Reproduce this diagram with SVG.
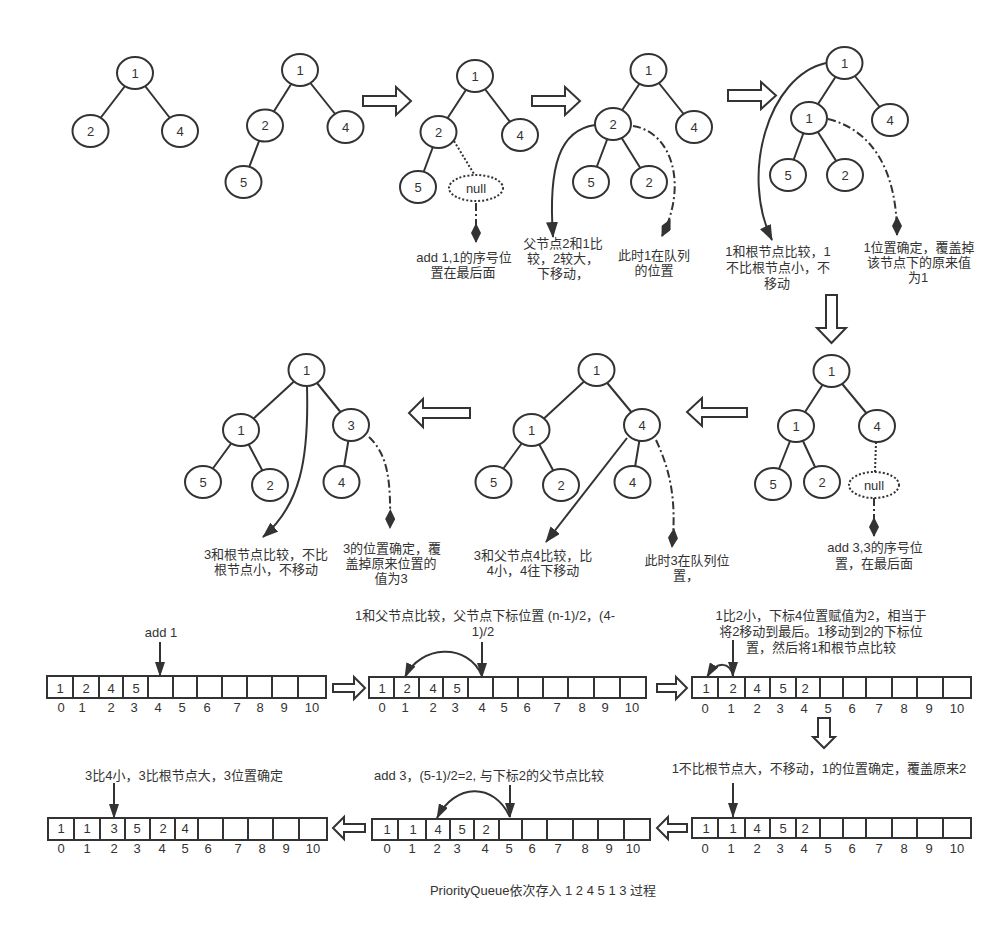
<svg xmlns="http://www.w3.org/2000/svg" width="1007" height="934" viewBox="0 0 1007 934">
<style>
text{font-family:"Liberation Sans","Noto Sans CJK SC",sans-serif;font-size:13px;fill:#333;text-anchor:middle;dominant-baseline:central}
.n ellipse{fill:#fff;stroke:#333;stroke-width:2}
.e{stroke:#333;stroke-width:2;fill:none}
.dd{stroke:#333;stroke-width:2;fill:none;stroke-dasharray:8,3,2,3}
.dt{stroke:#333;stroke-width:2;fill:none;stroke-dasharray:2,2}
.null{fill:#fff;stroke:#333;stroke-width:2;stroke-dasharray:2,2}
.big{fill:#fff;stroke:#333;stroke-width:2}
.cell{fill:#fff;stroke:#333;stroke-width:2}
.div{stroke:#333;stroke-width:2}
</style>
<defs>
<marker id="ah" markerUnits="userSpaceOnUse" markerWidth="16" markerHeight="12" viewBox="0 0 16 12" refX="15" refY="6" orient="auto"><path d="M0,0 L16,6 L0,12 z" fill="#333"/></marker>
<marker id="ahs" markerUnits="userSpaceOnUse" markerWidth="15" markerHeight="10" viewBox="0 0 15 10" refX="14" refY="5" orient="auto"><path d="M0,0 L15,5 L0,10 z" fill="#333"/></marker>
<marker id="dm" markerUnits="userSpaceOnUse" markerWidth="20" markerHeight="10" viewBox="0 0 20 10" refX="19" refY="5" orient="auto"><path d="M0,5 L10,0 L20,5 L10,10 z" fill="#333"/></marker>
</defs>
<rect width="1007" height="934" fill="#fff"/>

<g id="connectors">
<path class="e" d="M135,73L90.5,131M135,73L180,131"/>
<path class="e" d="M300,70L265,125.5M300,70L345.5,127M265,125.5L243.5,182"/>
<path class="e" d="M475,76L438.5,132M475,76L520,135M438.5,132L418,187"/>
<path class="dt" d="M454,141L474,174"/>
<path class="dd" d="M476,203L476,242" marker-end="url(#dm)"/>
<path class="e" d="M648.5,70L613,124M648.5,70L694,127M613,124L591,182M613,124L649,182"/>
<path class="e" d="M595,125C560,130 548,165 553,237" marker-end="url(#ah)"/>
<path class="dd" d="M633,126C672,132 688,185 662,236" marker-end="url(#dm)"/>
<path class="e" d="M844.5,63L809,118M844.5,63L890,120M809,118L788,175M809,118L845,175"/>
<path class="e" d="M826,63C768,76 740,175 772,240" marker-end="url(#ah)"/>
<path class="dd" d="M828,119C872,130 897,170 897,235" marker-end="url(#dm)"/>
<path class="e" d="M831.5,371L796,426M831.5,371L877,426M796,426L773,484M796,426L822,482"/>
<path class="dt" d="M876,442L875,472"/>
<path class="dd" d="M874,498L874,536" marker-end="url(#dm)"/>
<path class="e" d="M596.5,370L531.5,430M596.5,370L642,425M531.5,430L493.5,482M531.5,430L561,485M642,425L632.5,482"/>
<path class="e" d="M627,438L546,542" marker-end="url(#ah)"/>
<path class="dd" d="M656,440C670,470 677,500 672,547" marker-end="url(#dm)"/>
<path class="e" d="M306.5,370L241,430M306.5,370L351,425M241,430L203,482M241,430L270,485M351,425L341.5,482"/>
<path class="e" d="M307,387C309,460 300,505 263,537" marker-end="url(#ah)"/>
<path class="dd" d="M369,437C388,455 391,480 390,528" marker-end="url(#dm)"/>
<path class="e" d="M160,642L160,676" marker-end="url(#ahs)"/>
<path class="e" d="M482,642L482,677" marker-end="url(#ahs)"/>
<path class="e" d="M482,676C468,642 420,645 405,677" marker-end="url(#ahs)"/>
<path class="e" d="M733,640L733,676" marker-end="url(#ahs)"/>
<path class="e" d="M733,676C730,662 717,660 707,677" marker-end="url(#ahs)"/>
<path class="e" d="M733,783L733,817" marker-end="url(#ahs)"/>
<path class="e" d="M510,785L510,817" marker-end="url(#ahs)"/>
<path class="e" d="M510,817C494,782 455,783 437,818" marker-end="url(#ahs)"/>
<path class="e" d="M114,783L114,818" marker-end="url(#ahs)"/>
<polygon class="big" points="363,96 396,96 396,87 411,101 396,115 396,106 363,106"/>
<polygon class="big" points="532,96 565,96 565,87 580,101 565,115 565,106 532,106"/>
<polygon class="big" points="728,90 761,90 761,82 776,95.5 761,109 761,101 728,101"/>
<polygon class="big" points="826,295 837,295 837,328 846,328 831.5,343 817,328 826,328"/>
<polygon class="big" points="747,408 702,408 702,398 687,412 702,426 702,417 747,417"/>
<polygon class="big" points="470,408 423,408 423,399 409,413 423,427 423,418 470,418"/>
<polygon class="big" points="333,684 354,684 354,677 365,688 354,699 354,692 333,692"/>
<polygon class="big" points="657,684 676,684 676,677 687,688 676,699 676,692 657,692"/>
<polygon class="big" points="818,718 830,718 830,737 835,737 824,748 813,737 818,737"/>
<polygon class="big" points="687,824 668,824 668,817 657,828 668,839 668,832 687,832"/>
<polygon class="big" points="365,824 344,824 344,817 333,828 344,839 344,832 365,832"/>
</g>

<g id="t1" class="n">
<ellipse cx="135" cy="73" rx="18" ry="16"/><text x="135" y="73">1</text>
<ellipse cx="90.5" cy="131" rx="18" ry="16"/><text x="90.5" y="131">2</text>
<ellipse cx="180" cy="131" rx="18" ry="16"/><text x="180" y="131">4</text>
</g>
<g id="t2" class="n">
<ellipse cx="300" cy="70" rx="18" ry="16"/><text x="300" y="70">1</text>
<ellipse cx="265" cy="125.5" rx="18" ry="16"/><text x="265" y="125.5">2</text>
<ellipse cx="345.5" cy="127" rx="18" ry="16"/><text x="345.5" y="127">4</text>
<ellipse cx="243.5" cy="182" rx="18" ry="16"/><text x="243.5" y="182">5</text>
</g>
<g id="t3" class="n">
<ellipse cx="475" cy="76" rx="18" ry="16"/><text x="475" y="76">1</text>
<ellipse cx="438.5" cy="132" rx="18" ry="16"/><text x="438.5" y="132">2</text>
<ellipse cx="520" cy="135" rx="18" ry="16"/><text x="520" y="135">4</text>
<ellipse cx="418" cy="187" rx="18" ry="16"/><text x="418" y="187">5</text>
<ellipse class="null" cx="476" cy="188" rx="27" ry="13"/><text x="476" y="188">null</text>
<text x="464" y="257">add 1,1的序号位</text>
<text x="463" y="272">置在最后面</text>
</g>
<g id="t4" class="n">
<ellipse cx="648.5" cy="70" rx="18" ry="16"/><text x="648.5" y="70">1</text>
<ellipse cx="613" cy="124" rx="18" ry="16"/><text x="613" y="124">2</text>
<ellipse cx="694" cy="127" rx="18" ry="16"/><text x="694" y="127">4</text>
<ellipse cx="591" cy="182" rx="18" ry="16"/><text x="591" y="182">5</text>
<ellipse cx="649" cy="182" rx="18" ry="16"/><text x="649" y="182">2</text>
<text x="563" y="243">父节点2和1比</text>
<text x="563" y="258">较，2较大，</text>
<text x="563" y="273">下移动，</text>
<text x="654" y="255">此时1在队列</text>
<text x="654" y="270">的位置</text>
</g>
<g id="t5" class="n">
<ellipse cx="844.5" cy="63" rx="18" ry="16"/><text x="844.5" y="63">1</text>
<ellipse cx="809" cy="118" rx="18" ry="16"/><text x="809" y="118">1</text>
<ellipse cx="890" cy="120" rx="18" ry="16"/><text x="890" y="120">4</text>
<ellipse cx="788" cy="175" rx="18" ry="16"/><text x="788" y="175">5</text>
<ellipse cx="845" cy="175" rx="18" ry="16"/><text x="845" y="175">2</text>
<text x="778" y="251">1和根节点比较，1</text>
<text x="778" y="267">不比根节点小，不</text>
<text x="777" y="283">移动</text>
<text x="919" y="247">1位置确定，覆盖掉</text>
<text x="919" y="262">该节点下的原来值</text>
<text x="918" y="277">为1</text>
</g>
<g id="t6" class="n">
<ellipse cx="831.5" cy="371" rx="18" ry="16"/><text x="831.5" y="371">1</text>
<ellipse cx="796" cy="426" rx="18" ry="16"/><text x="796" y="426">1</text>
<ellipse cx="877" cy="426" rx="18" ry="16"/><text x="877" y="426">4</text>
<ellipse cx="773" cy="484" rx="18" ry="16"/><text x="773" y="484">5</text>
<ellipse cx="822" cy="482" rx="18" ry="16"/><text x="822" y="482">2</text>
<ellipse class="null" cx="874" cy="485" rx="25" ry="13"/><text x="874" y="485">null</text>
<text x="875" y="547">add 3,3的序号位</text>
<text x="874" y="563">置，在最后面</text>
</g>
<g id="t7" class="n">
<ellipse cx="596.5" cy="370" rx="18" ry="16"/><text x="596.5" y="370">1</text>
<ellipse cx="531.5" cy="430" rx="18" ry="16"/><text x="531.5" y="430">1</text>
<ellipse cx="642" cy="425" rx="18" ry="16"/><text x="642" y="425">4</text>
<ellipse cx="493.5" cy="482" rx="18" ry="16"/><text x="493.5" y="482">5</text>
<ellipse cx="561" cy="485" rx="18" ry="16"/><text x="561" y="485">2</text>
<ellipse cx="632.5" cy="482" rx="18" ry="16"/><text x="632.5" y="482">4</text>
<text x="533" y="555">3和父节点4比较，比</text>
<text x="533" y="570">4小，4往下移动</text>
<text x="687" y="560">此时3在队列位</text>
<text x="686" y="575">置，</text>
</g>
<g id="t8" class="n">
<ellipse cx="306.5" cy="370" rx="18" ry="16"/><text x="306.5" y="370">1</text>
<ellipse cx="241" cy="430" rx="18" ry="16"/><text x="241" y="430">1</text>
<ellipse cx="351" cy="425" rx="18" ry="16"/><text x="351" y="425">3</text>
<ellipse cx="203" cy="482" rx="18" ry="16"/><text x="203" y="482">5</text>
<ellipse cx="270" cy="485" rx="18" ry="16"/><text x="270" y="485">2</text>
<ellipse cx="341.5" cy="482" rx="18" ry="16"/><text x="341.5" y="482">4</text>
<text x="266" y="554">3和根节点比较，不比</text>
<text x="266" y="569">根节点小，不移动</text>
<text x="392" y="548">3的位置确定，覆</text>
<text x="391" y="563">盖掉原来位置的</text>
<text x="391" y="578">值为3</text>
</g>

<g id="arrA">
<rect class="cell" x="47" y="676" width="279" height="22"/>
<path class="div" d="M73,676v22M99,676v22M123,676v22M148,676v22M173,676v22M197,676v22M222,676v22M247,676v22M272,676v22M298,676v22"/>
<text x="60" y="688">1</text><text x="86" y="688">2</text><text x="111" y="688">4</text><text x="136" y="688">5</text>
<text x="61" y="707">0</text><text x="82" y="707">1</text><text x="111" y="707">2</text><text x="134" y="707">3</text><text x="158" y="707">4</text><text x="182" y="707">5</text><text x="207" y="707">6</text><text x="237" y="707">7</text><text x="260" y="707">8</text><text x="284" y="707">9</text><text x="312" y="707">10</text>
<text x="161" y="632">add 1</text>
</g>
<g id="arrB">
<rect class="cell" x="369" y="677" width="277" height="21"/>
<path class="div" d="M394,677v21M419,677v21M443,677v21M468,677v21M493,677v21M518,677v21M543,677v21M568,677v21M594,677v21M620,677v21"/>
<text x="382" y="688">1</text><text x="407" y="688">2</text><text x="433" y="688">4</text><text x="457" y="688">5</text>
<text x="382" y="707">0</text><text x="405" y="707">1</text><text x="433" y="707">2</text><text x="455" y="707">3</text><text x="482" y="707">4</text><text x="504" y="707">5</text><text x="527" y="707">6</text><text x="557" y="707">7</text><text x="582" y="707">8</text><text x="605" y="707">9</text><text x="632" y="707">10</text>
<text x="485" y="615">1和父节点比较，父节点下标位置 (n-1)/2，(4-</text>
<text x="483" y="631">1)/2</text>
</g>
<g id="arrC">
<rect class="cell" x="692" y="677" width="279" height="21"/>
<path class="div" d="M718,677v21M745,677v21M770,677v21M796,677v21M820,677v21M843,677v21M866,677v21M892,677v21M917,677v21M943,677v21"/>
<text x="706" y="688">1</text><text x="733" y="688">2</text><text x="757" y="688">4</text><text x="783" y="688">5</text><text x="805" y="688">2</text>
<text x="705" y="708">0</text><text x="731" y="708">1</text><text x="757" y="708">2</text><text x="780" y="708">3</text><text x="804" y="708">4</text><text x="828" y="708">5</text><text x="852" y="708">6</text><text x="879" y="708">7</text><text x="904" y="708">8</text><text x="929" y="708">9</text><text x="957" y="708">10</text>
<text x="821" y="615">1比2小，下标4位置赋值为2，相当于</text>
<text x="821" y="631">将2移动到最后。1移动到2的下标位</text>
<text x="821" y="647">置，然后将1和根节点比较</text>
</g>
<g id="arrF">
<rect class="cell" x="692" y="818" width="279" height="20"/>
<path class="div" d="M718,818v20M745,818v20M770,818v20M796,818v20M820,818v20M843,818v20M866,818v20M892,818v20M917,818v20M943,818v20"/>
<text x="706" y="828">1</text><text x="733" y="828">1</text><text x="757" y="828">4</text><text x="783" y="828">5</text><text x="805" y="828">2</text>
<text x="705" y="848">0</text><text x="731" y="848">1</text><text x="757" y="848">2</text><text x="780" y="848">3</text><text x="804" y="848">4</text><text x="828" y="848">5</text><text x="852" y="848">6</text><text x="879" y="848">7</text><text x="904" y="848">8</text><text x="929" y="848">9</text><text x="957" y="848">10</text>
<text x="819" y="768">1不比根节点大，不移动，1的位置确定，覆盖原来2</text>
</g>
<g id="arrE">
<rect class="cell" x="372" y="819" width="278" height="21"/>
<path class="div" d="M398,819v21M426,819v21M450,819v21M474,819v21M499,819v21M522,819v21M547,819v21M573,819v21M598,819v21M624,819v21"/>
<text x="387" y="829">1</text><text x="413" y="829">1</text><text x="438" y="829">4</text><text x="462" y="829">5</text><text x="486" y="829">2</text>
<text x="387" y="848">0</text><text x="412" y="848">1</text><text x="437" y="848">2</text><text x="457" y="848">3</text><text x="485" y="848">4</text><text x="509" y="848">5</text><text x="532" y="848">6</text><text x="558" y="848">7</text><text x="585" y="848">8</text><text x="609" y="848">9</text><text x="633" y="848">10</text>
<text x="489" y="775">add 3，(5-1)/2=2, 与下标2的父节点比较</text>
</g>
<g id="arrD">
<rect class="cell" x="48" y="818" width="279" height="22"/>
<path class="div" d="M74,818v22M100,818v22M125,818v22M150,818v22M175,818v22M198,818v22M223,818v22M248,818v22M273,818v22M299,818v22"/>
<text x="61" y="828">1</text><text x="87" y="828">1</text><text x="114" y="828">3</text><text x="137" y="828">5</text><text x="163" y="828">2</text><text x="185" y="828">4</text>
<text x="61" y="848">0</text><text x="87" y="848">1</text><text x="114" y="848">2</text><text x="137" y="848">3</text><text x="162" y="848">4</text><text x="185" y="848">5</text><text x="208" y="848">6</text><text x="238" y="848">7</text><text x="262" y="848">8</text><text x="286" y="848">9</text><text x="313" y="848">10</text>
<text x="184" y="775">3比4小，3比根节点大，3位置确定</text>
</g>

<text x="543" y="890">PriorityQueue依次存入 1 2 4 5 1 3 过程</text>
</svg>
